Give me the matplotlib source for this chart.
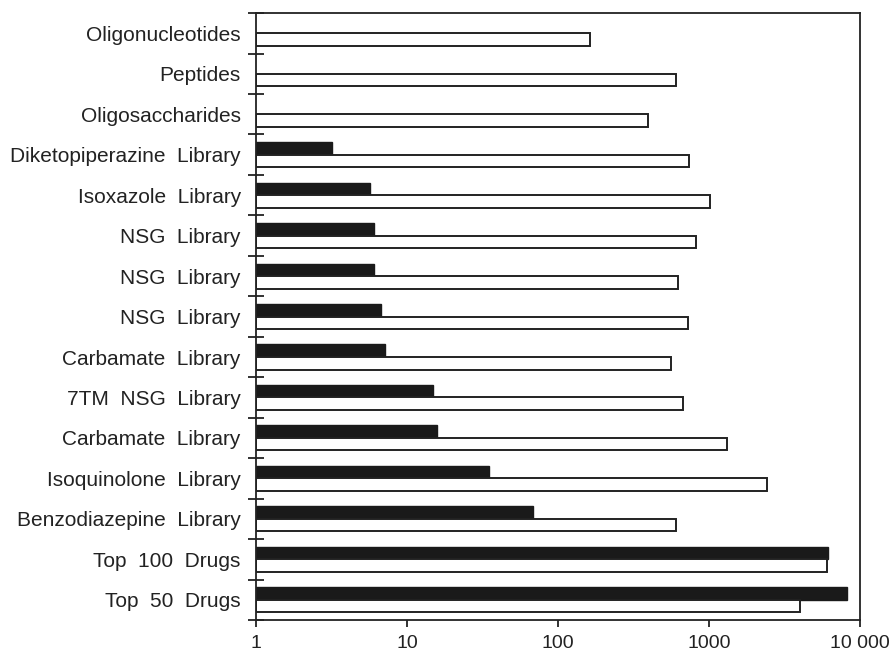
import matplotlib
matplotlib.use("Agg")
import matplotlib.pyplot as plt
import numpy as np

categories = ["Oligonucleotides", "Peptides", "Oligosaccharides",
              "Diketopiperazine  Library", "Isoxazole  Library", "NSG  Library",
              "NSG  Library", "NSG  Library", "Carbamate  Library",
              "7TM  NSG  Library", "Carbamate  Library", "Isoquinolone  Library",
              "Benzodiazepine  Library", "Top  100  Drugs", "Top  50  Drugs"]
black_values = [None, None, None, 3.2, 5.7, 6.0, 6.0, 6.7, 7.2, 14.8, 15.9,
                35, 68, 6100, 8200]
white_values = [163, 604, 396, 741, 1016, 820, 626, 722, 557, 676, 1309,
                2430, 605, 6000, 4000]
xtick_vals = [1, 10, 100, 1000, 10000]
xtick_labels = ["1", "10", "100", "1000", "10 000"]

plt.rcParams['font.family'] = ['Liberation Sans', 'DejaVu Sans']

fig = plt.figure(figsize=(8.94, 6.53), dpi=100)
ax = fig.add_axes([0.2864, 0.0505, 0.962 - 0.2864, 0.980 - 0.0505])
ax.set_xscale('log')

h = 0.31
off = 0.155
y = np.arange(len(categories))
for i, (b, w) in enumerate(zip(black_values, white_values)):
    if b is not None:
        ax.barh(i - off, b - 1, left=1, height=h, color='#1a1a1a',
                edgecolor='#1a1a1a', linewidth=1.0)
    if w is not None:
        ax.barh(i + off, w - 1, left=1, height=h, color='white',
                edgecolor='#222222', linewidth=1.4)

ax.set_xlim(1, 10000)
ax.set_ylim(len(categories) - 0.5, -0.5)

ax.set_xticks(xtick_vals)
ax.set_xticklabels(xtick_labels)
ax.xaxis.set_minor_locator(matplotlib.ticker.NullLocator())
ax.tick_params(axis='x', which='major', direction='out', length=5, width=1.3,
               labelsize=14, colors='#222222', pad=6)

ax.set_yticks(y)
ax.set_yticklabels(categories)
ax.set_yticks(np.arange(len(categories) + 1) - 0.5, minor=True)
ax.tick_params(axis='y', which='major', length=0, labelsize=15,
               colors='#222222', pad=11)
ax.tick_params(axis='y', which='minor', direction='inout', length=11,
               width=1.3, color='#222222')

for s in ax.spines.values():
    s.set_linewidth(1.3)
    s.set_color('#222222')

fig.savefig("out.png", dpi=100)
